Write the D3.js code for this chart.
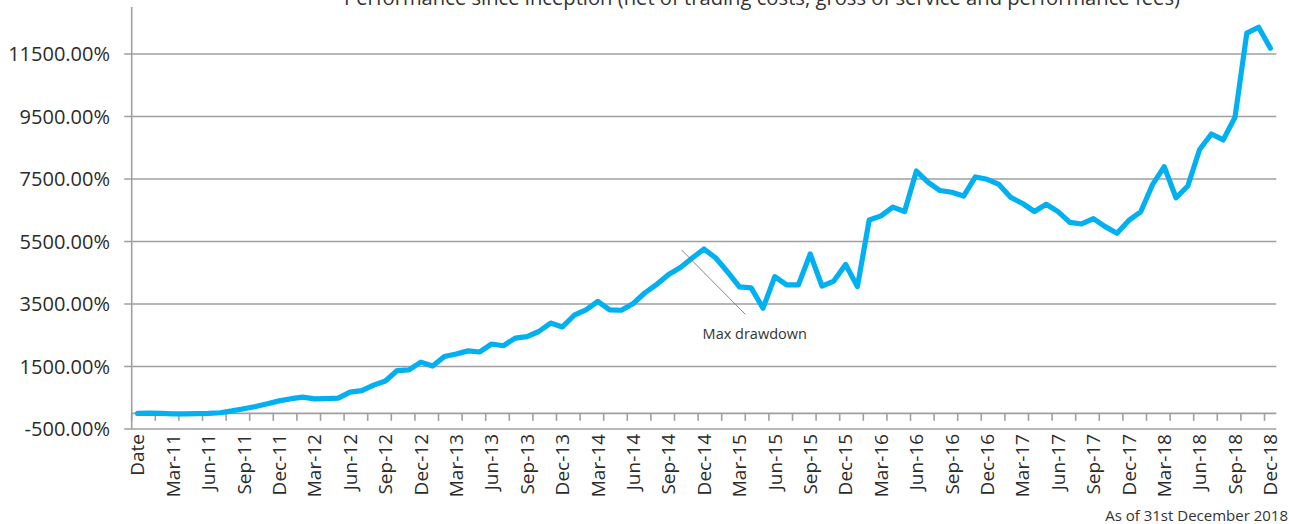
<!DOCTYPE html>
<html>
<head>
<meta charset="utf-8">
<script src="https://cdn.jsdelivr.net/npm/d3@7"></script>
<style>
  body { margin: 0; background: #fff; }
  svg { display: block; font-family: "Open Sans", sans-serif; }
</style>
</head>
<body>
<svg width="1289" height="524"></svg>
<script>
var title = "Performance since inception (net of trading costs, gross of service and performance fees)",
    footnote = "As of 31st December 2018",
    annotation = "Max drawdown";

// first category is the header cell "Date", then month ends Jan-11 .. Dec-18
var months = d3.timeMonths(new Date(2011, 0, 1), new Date(2019, 0, 1)).map(d3.timeFormat("%b-%y"));
var categories = ["Date"].concat(months);

// cumulative performance, %
var performance = [
  0, 5, 0, -15, -15, -10, 0, 20, 80, 150, 220, 310, 400,
  470, 520, 465, 475, 490, 680, 730, 905, 1035, 1370, 1390, 1640,
  1515, 1820, 1900, 2000, 1965, 2220, 2165, 2410, 2455, 2620, 2890, 2765,
  3140, 3310, 3585, 3310, 3300, 3515, 3860, 4130, 4445, 4670, 4970, 5260,
  4970, 4525, 4045, 4015, 3365, 4375, 4110, 4110, 5100, 4075, 4235, 4765,
  4055, 6190, 6320, 6600, 6460, 7755, 7395, 7130, 7075, 6955, 7565, 7490,
  7325, 6910, 6715, 6460, 6690, 6455, 6110, 6060, 6230, 5975, 5765, 6175,
  6445, 7310, 7895, 6900, 7275, 8445, 8940, 8750, 9475, 12165, 12355, 11685
];

var yTicks = [-500, 1500, 3500, 5500, 7500, 9500, 11500];

// drawdown callout: [category index, value]
var drawdownLine = [[46.1, 5230], [51.5, 3170]],
    drawdownLabel = [52.3, 2380];

var svg = d3.select("svg"),
    plotLeft = 131.7,
    plotRight = 1276.3,
    plotBottom = 429,
    plotTop = 7.1;

// plain hyphen for negatives, like the spreadsheet
var pct = d3.formatLocale({decimal: ".", thousands: ",", grouping: [3], currency: ["", ""], minus: "-"}).format(".2f");

var x = d3.scaleBand()
    .domain(d3.range(categories.length))
    .range([plotLeft, plotRight])
    .padding(0);

var xc = function(i) { return plotLeft + (i + 0.5) * x.bandwidth(); };

var y = d3.scaleLinear()
    .domain([-500, 13000])
    .range([plotBottom, plotTop]);

// gridlines (with outside tick stubs on the value axis)
svg.append("g")
  .selectAll("line")
  .data(yTicks)
  .join("line")
    .attr("x1", plotLeft - 7.5)
    .attr("x2", plotRight)
    .attr("y1", function(d) { return y(d); })
    .attr("y2", function(d) { return y(d); })
    .attr("stroke", "#9f9f9f")
    .attr("stroke-width", 1.6);

// value axis
svg.append("line")
    .attr("x1", plotLeft).attr("x2", plotLeft)
    .attr("y1", plotTop).attr("y2", plotBottom)
    .attr("stroke", "#9f9f9f")
    .attr("stroke-width", 1.6);

svg.append("g")
  .selectAll("text")
  .data(yTicks)
  .join("text")
    .attr("x", 110)
    .attr("y", function(d) { return y(d); })
    .attr("dy", "0.36em")
    .attr("text-anchor", "end")
    .attr("fill", "#2b2b2b")
    .style("font-size", "20px")
    .text(function(d) { return pct(d) + "%"; });

// category axis crosses at 0
var x0 = y(0);
svg.append("line")
    .attr("x1", plotLeft).attr("x2", plotRight)
    .attr("y1", x0).attr("y2", x0)
    .attr("stroke", "#9f9f9f")
    .attr("stroke-width", 1.6);

svg.append("g")
  .selectAll("line")
  .data(d3.range(0, categories.length + 1, 2))
  .join("line")
    .attr("x1", function(i) { return plotLeft + i * x.bandwidth(); })
    .attr("x2", function(i) { return plotLeft + i * x.bandwidth(); })
    .attr("y1", x0)
    .attr("y2", x0 + 7.5)
    .attr("stroke", "#9f9f9f")
    .attr("stroke-width", 1.6);

svg.append("g")
  .selectAll("text")
  .data(categories.filter(function(d, i) { return i % 3 === 0; }))
  .join("text")
    .attr("transform", function(d) {
      return "translate(" + xc(categories.indexOf(d)) + "," + 434 + ") rotate(-90)";
    })
    .attr("dy", "0.36em")
    .attr("text-anchor", "end")
    .attr("fill", "#2b2b2b")
    .style("font-size", "19px")
    .text(function(d) { return d; });

// performance line
var line = d3.line()
    .x(function(d, i) { return xc(i); })
    .y(function(d) { return y(d); });

svg.append("path")
    .datum(performance)
    .attr("d", line)
    .attr("fill", "none")
    .attr("stroke", "#00b0f0")
    .attr("stroke-width", 5.2)
    .attr("stroke-linejoin", "round")
    .attr("stroke-linecap", "round");

// drawdown callout
svg.append("line")
    .attr("x1", xc(drawdownLine[0][0])).attr("y1", y(drawdownLine[0][1]))
    .attr("x2", xc(drawdownLine[1][0])).attr("y2", y(drawdownLine[1][1]))
    .attr("stroke", "#7a7a7a")
    .attr("stroke-width", 0.9);

svg.append("text")
    .attr("x", xc(drawdownLabel[0]))
    .attr("y", y(drawdownLabel[1]))
    .attr("text-anchor", "middle")
    .attr("fill", "#333")
    .style("font-size", "14.5px")
    .text(annotation);

// title, partly cut off at the top edge
svg.append("text")
    .attr("x", 762)
    .attr("y", 5)
    .attr("text-anchor", "middle")
    .attr("fill", "#333")
    .style("font-size", "20.2px")
    .text(title);

svg.append("text")
    .attr("x", 1288)
    .attr("y", 521)
    .attr("text-anchor", "end")
    .attr("fill", "#333")
    .style("font-size", "15px")
    .text(footnote);
</script>
</body>
</html>
